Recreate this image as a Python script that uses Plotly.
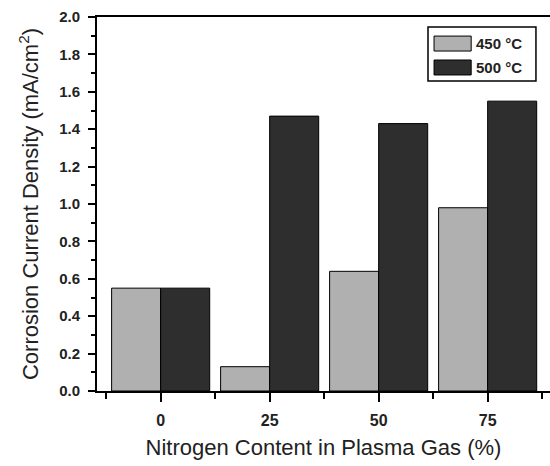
import plotly.graph_objects as go

nitrogen = [0, 25, 50, 75]
series_names = ["450 °C", "500 °C"]
values_450 = [0.55, 0.13, 0.64, 0.98]
values_500 = [0.55, 1.47, 1.43, 1.55]
colors = ["#b0b0b0", "#2e2e2e"]

fig = go.Figure()
for name, vals, col in zip(series_names, [values_450, values_500], colors):
    fig.add_trace(go.Bar(x=nitrogen, y=vals, name=name, marker=dict(color=col, line=dict(color="black", width=1)),
                         showlegend=False))

font_fam = "Liberation Sans, Arial, sans-serif"
fig.update_layout(
    width=550, height=466,
    margin=dict(l=97, r=0, t=17, b=75),
    paper_bgcolor="white", plot_bgcolor="white",
    barmode="group", bargap=0.1, bargroupgap=0,
    font=dict(family=font_fam, color="black"),
    xaxis=dict(
        range=[-14.6, 89.3], tickmode="array", tickvals=nitrogen, ticktext=[str(v) for v in nitrogen],
        ticks="outside", ticklen=9, tickwidth=2, tickcolor="black",
        minor=dict(tickmode="array", tickvals=[-12.5, 12.5, 37.5, 62.5, 87.5], ticks="outside", ticklen=6, tickwidth=2, tickcolor="black"),
        showline=True, linewidth=2, linecolor="black", mirror=True,
        showgrid=False, zeroline=False, ticklabelstandoff=5,
        tickfont=dict(size=16, weight="bold", family=font_fam, color="#222"),
        title=dict(text="Nitrogen Content in Plasma Gas (%)", font=dict(size=22, family=font_fam, color="#222"), standoff=11),
    ),
    yaxis=dict(
        range=[0, 2.0], tick0=0, dtick=0.2, tickformat=".1f",
        ticks="outside", ticklen=7, tickwidth=2, tickcolor="black",
        minor=dict(dtick=0.1, ticks="outside", ticklen=4, tickwidth=2, tickcolor="black"),
        showline=True, linewidth=2, linecolor="black", mirror=False,
        showgrid=False, zeroline=False, ticklabelstandoff=5,
        tickfont=dict(size=15, weight="bold", family=font_fam, color="#222"),
        title=dict(text="Corrosion Current Density (mA/cm<sup>2</sup>)", font=dict(size=22, family=font_fam, color="#222"), standoff=14),
    ),
)

# manual legend
fig.add_shape(type="rect", xref="paper", yref="paper", x0=0.7307, x1=0.969, y0=0.829, y1=0.973,
              line=dict(color="black", width=1.5), fillcolor="white")
sw_y = [(0.909, 0.949), (0.845, 0.885)]
for (y0, y1), col, name in zip(sw_y, colors, series_names):
    fig.add_shape(type="rect", xref="paper", yref="paper", x0=0.744, x1=0.826, y0=y0, y1=y1,
                  line=dict(color="black", width=1), fillcolor=col)
    fig.add_annotation(xref="paper", yref="paper", x=0.832, y=(y0 + y1) / 2, text=name, showarrow=False,
                       xanchor="left", yanchor="middle", font=dict(size=15, weight="bold", family=font_fam, color="#222"))

fig.write_html("out.html")
